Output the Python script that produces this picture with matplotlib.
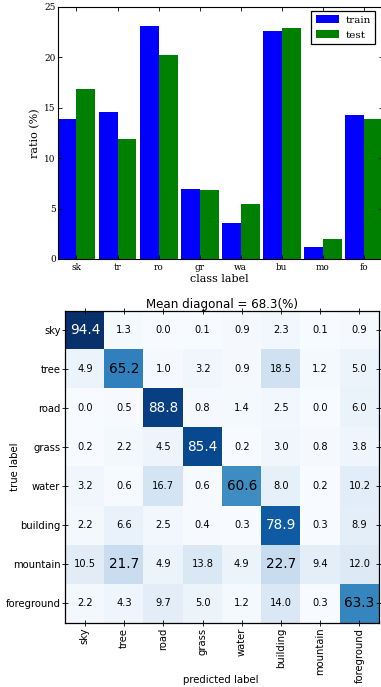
import matplotlib
matplotlib.use("Agg")
import matplotlib.pyplot as plt
import numpy as np

short_labels = ["sk", "tr", "ro", "gr", "wa", "bu", "mo", "fo"]
train_ratio = [13.9, 14.6, 23.1, 6.9, 3.6, 22.6, 1.2, 14.3]
test_ratio = [16.9, 11.9, 20.2, 6.8, 5.5, 22.9, 2.0, 13.9]

class_names = ["sky", "tree", "road", "grass", "water", "building", "mountain", "foreground"]
conf = [
    [94.4, 1.3, 0.0, 0.1, 0.9, 2.3, 0.1, 0.9],
    [4.9, 65.2, 1.0, 3.2, 0.9, 18.5, 1.2, 5.0],
    [0.0, 0.5, 88.8, 0.8, 1.4, 2.5, 0.0, 6.0],
    [0.2, 2.2, 4.5, 85.4, 0.2, 3.0, 0.8, 3.8],
    [3.2, 0.6, 16.7, 0.6, 60.6, 8.0, 0.2, 10.2],
    [2.2, 6.6, 2.5, 0.4, 0.3, 78.9, 0.3, 8.9],
    [10.5, 21.7, 4.9, 13.8, 4.9, 22.7, 9.4, 12.0],
    [2.2, 4.3, 9.7, 5.0, 1.2, 14.0, 0.3, 63.3],
]
mean_diag = 68.3

W, H = 381, 687
fig = plt.figure(figsize=(W / 100, H / 100), dpi=100)

# ---------- top bar chart (classic look) ----------
serif = ["DejaVu Serif"]
L1, R1, T1, B1 = 58, 382.5, 7, 259
ax1 = fig.add_axes([L1 / W, 1 - B1 / H, (R1 - L1) / W, (B1 - T1) / H])
x = np.arange(len(short_labels))
w = 0.46
ax1.bar(x - w / 2, train_ratio, width=w, color="#0000ff", edgecolor="none", label="train")
ax1.bar(x + w / 2, test_ratio, width=w, color="#008000", edgecolor="none", label="test")
ax1.set_xlim(-0.45, 7.45)
ax1.set_ylim(0, 25)
ax1.set_xticks(x)
ax1.set_xticklabels(short_labels, family=serif, fontsize=6.4)
ax1.set_yticks([0, 5, 10, 15, 20, 25])
ax1.set_yticklabels(["0", "5", "10", "15", "20", "25"], family=serif, fontsize=6.4)
ax1.tick_params(direction="in", top=True, right=True, length=3, width=0.6)
ax1.tick_params(axis="y", pad=1.5)
ax1.tick_params(axis="x", pad=3)
ax1.set_xlabel("class label", family=serif, fontsize=8)
ax1.set_ylabel("ratio (%)", family=serif, fontsize=8)
ax1.xaxis.set_label_coords(((L1 + R1) / 2 - 1 - L1) / (R1 - L1), -(279 - B1) / (B1 - T1))
ax1.yaxis.set_label_coords(-(L1 - 35) / (R1 - L1), 0.5)
ax1.xaxis.label.set_va("center")
ax1.yaxis.label.set_va("center")
for s in ax1.spines.values():
    s.set_linewidth(0.8)
leg = ax1.legend(loc="upper right", prop={"family": "DejaVu Serif", "size": 7.5},
                 fancybox=False, framealpha=1, edgecolor="black",
                 handlelength=2.2, handleheight=0.8, borderaxespad=0.35,
                 borderpad=0.45, labelspacing=0.5, handletextpad=0.6,
                 bbox_to_anchor=(1 - (R1 - 379) / (R1 - L1), 1), )
leg.get_frame().set_linewidth(0.9)

# ---------- confusion matrix ----------
cm = np.array(conf)
L2, R2, T2, B2 = 65.3, 379, 310.7, 622.7
ax2 = fig.add_axes([L2 / W, 1 - B2 / H, (R2 - L2) / W, (B2 - T2) / H])
ax2.imshow(cm, cmap="Blues", vmin=0, vmax=cm.max(), interpolation="nearest", aspect="auto")
n = len(class_names)
for i in range(n):
    for j in range(n):
        v = cm[i, j]
        big = v > 20
        col = "white" if v > 70 else "black"
        ax2.text(j, i, f"{v:.1f}", ha="center", va="center",
                 fontsize=9.8 if big else 7.1, color=col)
ax2.set_xticks(range(n))
ax2.set_yticks(range(n))
ax2.set_xticklabels(class_names, rotation=90, fontsize=7.2)
ax2.set_yticklabels(class_names, fontsize=7.2)
ax2.tick_params(direction="inout", top=True, right=True, length=4, width=0.6, pad=1.5)
ax2.set_xlabel("predicted label", fontsize=7.3)
ax2.set_ylabel("true label", fontsize=7.3)
ax2.xaxis.set_label_coords(0.5 - 1 / (R2 - L2), -(680 - B2) / (B2 - T2))
ax2.yaxis.set_label_coords(-(L2 - 15.5) / (R2 - L2), 0.5)
ax2.xaxis.label.set_va("center")
ax2.yaxis.label.set_va("center")
ax2.set_title(f"Mean diagonal = {mean_diag}(%)", fontsize=8.6, pad=2)
for s in ax2.spines.values():
    s.set_linewidth(0.9)

fig.savefig("out.png", dpi=100)
